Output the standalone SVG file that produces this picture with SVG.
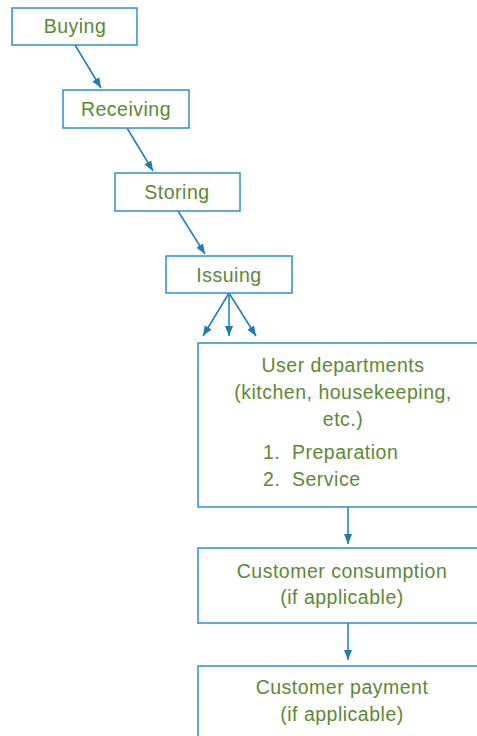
<svg xmlns="http://www.w3.org/2000/svg" width="477" height="736" viewBox="0 0 477 736">
<style>
.box{fill:#fff;stroke:#2b8fd1;stroke-width:1.5}
.t{font-family:"Liberation Sans",Arial,sans-serif;font-size:19.5px;letter-spacing:0.5px;fill:#5b8a2f;text-anchor:middle}
.l{font-family:"Liberation Sans",Arial,sans-serif;font-size:19.5px;letter-spacing:0.5px;fill:#5b8a2f}
.c{stroke:#1a7cc0;stroke-width:1.5;fill:none;marker-end:url(#ah)}
</style>
<defs>
<marker id="ah" viewBox="0 0 10 10" refX="10" refY="5" markerWidth="10" markerHeight="10" markerUnits="userSpaceOnUse" orient="auto">
<path d="M0,1 L10,5 L0,9 z" fill="#1a7cc0"/>
</marker>
</defs>
<rect width="477" height="736" fill="#fff"/>
<g id="connectors">
<line class="c" x1="75" y1="45" x2="101" y2="88"/>
<line class="c" x1="127" y1="128" x2="153" y2="171"/>
<line class="c" x1="178" y1="211" x2="205" y2="254"/>
<line class="c" x1="229" y1="293" x2="203" y2="336"/>
<line class="c" x1="229" y1="293" x2="229" y2="336"/>
<line class="c" x1="229" y1="293" x2="256" y2="336"/>
<line class="c" x1="348" y1="507" x2="348" y2="544"/>
<line class="c" x1="348" y1="623" x2="348" y2="660"/>
</g>
<g id="buying"><rect class="box" x="12" y="8" width="125" height="37"/><text class="t" x="75" y="33">Buying</text></g>
<g id="receiving"><rect class="box" x="63" y="90" width="126" height="38"/><text class="t" x="126" y="116">Receiving</text></g>
<g id="storing"><rect class="box" x="115" y="173" width="125" height="38"/><text class="t" x="177" y="199">Storing</text></g>
<g id="issuing"><rect class="box" x="166" y="256" width="126" height="37"/><text class="t" x="229" y="282">Issuing</text></g>
<g id="user-departments"><rect class="box" x="198" y="343" width="290" height="164"/>
<text class="t" x="343" y="372">User departments</text>
<text class="t" x="343" y="399">(kitchen, housekeeping,</text>
<text class="t" x="343" y="426">etc.)</text>
<text class="l" x="263" y="459">1.</text><text class="l" x="292" y="459">Preparation</text>
<text class="l" x="263" y="486">2.</text><text class="l" x="292" y="486">Service</text>
</g>
<g id="customer-consumption"><rect class="box" x="198" y="548" width="290" height="75"/>
<text class="t" x="342" y="578">Customer consumption</text>
<text class="t" x="342" y="604">(if applicable)</text>
</g>
<g id="customer-payment"><rect class="box" x="198" y="666" width="290" height="80"/>
<text class="t" x="342" y="694">Customer payment</text>
<text class="t" x="342" y="721">(if applicable)</text>
</g>
</svg>
